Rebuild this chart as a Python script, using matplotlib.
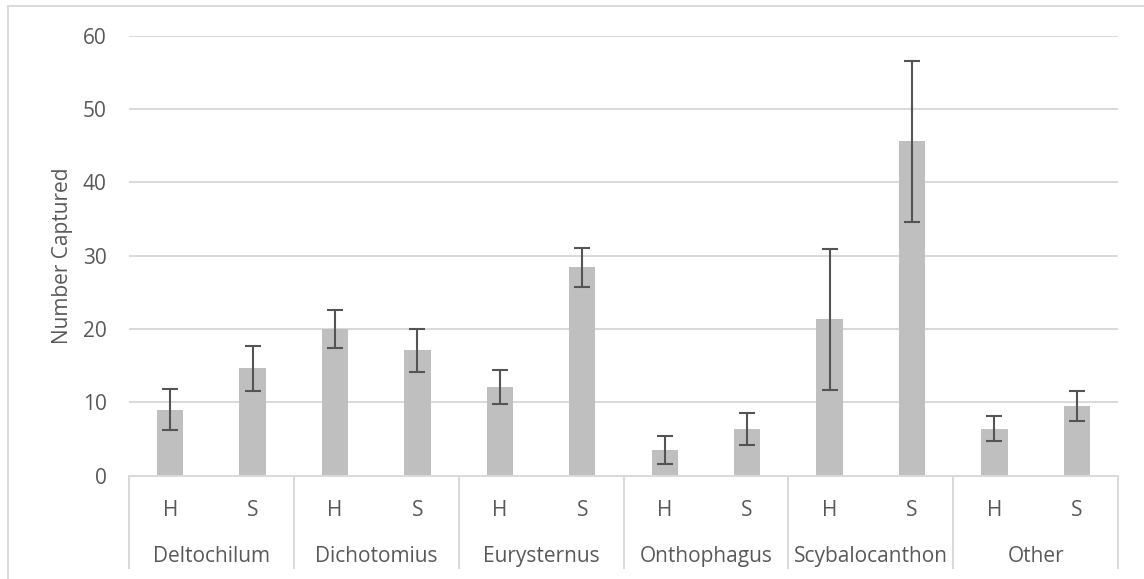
import matplotlib
matplotlib.use('Agg')
import matplotlib.pyplot as plt
import matplotlib.transforms as mtransforms
from matplotlib.lines import Line2D
import numpy as np

# beetle captures per genus, H vs S habitat
genera = ['Deltochilum', 'Dichotomius', 'Eurysternus', 'Onthophagus', 'Scybalocanthon', 'Other']
treatments = ['H', 'S']
h_means = [9.0, 20.0, 12.1, 3.5, 21.3, 6.4]
s_means = [14.6, 17.1, 28.4, 6.3, 45.6, 9.5]
h_err = [2.75, 2.6, 2.3, 1.95, 9.65, 1.7]
s_err = [3.1, 2.95, 2.65, 2.2, 11.0, 2.0]
y_ticks = [0, 10, 20, 30, 40, 50, 60]

text_col = '#595959'
grid_col = '#d9d9d9'
bar_col = '#bfbfbf'
err_col = '#545454'
fs = 15
plt.rcParams['font.family'] = ['Open Sans', 'DejaVu Sans']

W, H = 1144, 579
fig = plt.figure(figsize=(W / 100, H / 100), dpi=100)
x0, x1 = 129, 1118
y0, y1 = 475.5, 35.7
ax = fig.add_axes([x0 / W, 1 - y0 / H, (x1 - x0) / W, (y0 - y1) / H])

# interleave H and S per genus
means = []
errs = []
for i in range(len(genera)):
    means += [h_means[i], s_means[i]]
    errs += [h_err[i], s_err[i]]
xpos = np.arange(len(means)) + 0.5

ax.bar(xpos, means, width=0.32, color=bar_col, zorder=2)
ax.errorbar(xpos, means, yerr=errs, fmt='none', ecolor=err_col,
            elinewidth=1.5, capsize=6, capthick=1.5, zorder=3)

ax.set_xlim(0, len(means))
ax.set_ylim(0, 60)
ax.set_yticks(y_ticks)
ax.set_yticklabels([str(v) for v in y_ticks], fontsize=fs, color=text_col)
ax.tick_params(axis='y', length=0, pad=16)
ax.set_xticks([])
ax.yaxis.grid(True, color=grid_col, lw=1.4, zorder=0)
ax.set_axisbelow(True)
for s in ['top', 'right', 'left']:
    ax.spines[s].set_visible(False)
ax.spines['bottom'].set_color(grid_col)
ax.spines['bottom'].set_linewidth(1.4)

ax.set_ylabel('Number Captured', fontsize=fs, color=text_col, labelpad=7)

# two level category axis
trans = mtransforms.blended_transform_factory(ax.transData, ax.transAxes)
axh = y0 - y1
def ax_y(py):
    return -(py - y0) / axh

for k, xp in enumerate(xpos):
    ax.text(xp, ax_y(516), treatments[k % 2], transform=trans, ha='center', va='baseline',
            fontsize=fs, color=text_col)
for i, g in enumerate(genera):
    ax.text(2 * i + 1, ax_y(562), g, transform=trans, ha='center', va='baseline',
            fontsize=fs, color=text_col)
for i in range(len(genera) + 1):
    ax.plot([2 * i, 2 * i], [0, ax_y(568)], transform=trans, color=grid_col, lw=1.4,
            clip_on=False)

# chart frame (cut off at right and bottom)
fig.add_artist(Line2D([8 / W, 8 / W], [0, 1 - 6 / H], color=grid_col, lw=1.4))
fig.add_artist(Line2D([8 / W, 1], [1 - 6 / H, 1 - 6 / H], color=grid_col, lw=1.4))

fig.savefig('out.png', dpi=100)
